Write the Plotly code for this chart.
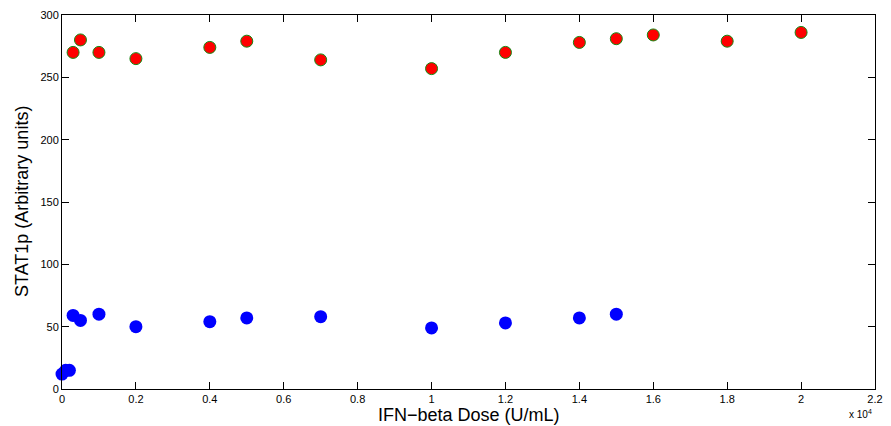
import plotly.graph_objects as go

# IFN-beta dose (U/mL) and STAT1p response
dose_high = [300, 500, 1000, 2000, 4000, 5000, 7000, 10000, 12000, 14000, 15000, 16000, 18000, 20000]
stat1p_high = [270, 280, 270, 265, 274, 279, 264, 257, 270, 278, 281, 284, 279, 286]

dose_low = [0, 100, 200, 300, 500, 1000, 2000, 4000, 5000, 7000, 10000, 12000, 14000, 15000]
stat1p_low = [12, 15, 15, 59, 55, 60, 50, 54, 57, 58, 49, 53, 57, 60]

x_ticks = [0, 2000, 4000, 6000, 8000, 10000, 12000, 14000, 16000, 18000, 20000, 22000]
x_tick_text = ["0", "0.2", "0.4", "0.6", "0.8", "1", "1.2", "1.4", "1.6", "1.8", "2", "2.2"]
y_ticks = [0, 50, 100, 150, 200, 250, 300]

font_family = "Liberation Sans, Arial, sans-serif"

fig = go.Figure()
fig.add_trace(go.Scatter(
    x=dose_high, y=stat1p_high, mode="markers",
    marker=dict(size=12, color="#ff0000", line=dict(color="#138a13", width=1)),
    cliponaxis=False, showlegend=False,
))
fig.add_trace(go.Scatter(
    x=dose_low, y=stat1p_low, mode="markers",
    marker=dict(size=13, color="#0000ff", line=dict(width=0)),
    cliponaxis=False, showlegend=False,
))

axis_common = dict(
    showline=True, linecolor="black", linewidth=1, mirror="ticks",
    ticks="inside", ticklen=7, tickcolor="black", tickwidth=1,
    showgrid=False, zeroline=False,
    tickfont=dict(family=font_family, size=11, color="black"),
)

fig.update_xaxes(range=[0, 22000], tickvals=x_ticks, ticktext=x_tick_text, **axis_common)
fig.update_yaxes(range=[0, 300], tickvals=y_ticks, **axis_common)

fig.update_layout(
    width=891, height=426,
    margin=dict(l=62, r=8, t=15, b=37),
    plot_bgcolor="white", paper_bgcolor="white",
    font=dict(family=font_family, color="black"),
    annotations=[
        dict(text="IFN\u2212beta Dose (U/mL)", xref="paper", yref="paper",
             x=0.5, y=0, yshift=-26, xanchor="center", yanchor="middle",
             showarrow=False, font=dict(size=18, family=font_family)),
        dict(text="STAT1p (Arbitrary units)", xref="paper", yref="paper",
             x=0, y=0.5, xshift=-40, xanchor="center", yanchor="middle", textangle=-90,
             showarrow=False, font=dict(size=18, family=font_family)),
        dict(text="x 10<sup>4</sup>", xref="paper", yref="paper",
             x=1, y=0, xshift=-1, yshift=-25, xanchor="right", yanchor="middle",
             showarrow=False, font=dict(size=10, family=font_family)),
    ],
)

fig.write_html("out.html")
